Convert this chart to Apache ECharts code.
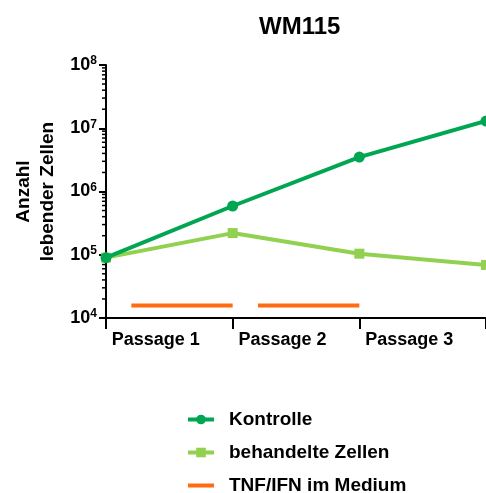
<!DOCTYPE html>
<html><head><meta charset="utf-8">
<script src="https://cdn.jsdelivr.net/npm/echarts@6/dist/echarts.min.js"></script>
<style>html,body{margin:0;padding:0;background:#fff}#c{width:486px;height:493px}</style>
</head><body><div id="c"></div>
<script>
const categories = ['Passage 1', 'Passage 2', 'Passage 3'];
const passagePoints = [0, 1, 2, 3];
const kontrolle = [90000, 590000, 3500000, 13000000];
const behandelt = [90000, 220000, 104000, 69000];
const treatmentLevel = 15700;
const treatmentPeriods = [[0.2, 1.0], [1.2, 2.0]];
const yMin = 1e4, yMax = 1e8;
const decades = [4, 5, 6, 7];
const minorMultipliers = [2, 3, 4, 5, 6, 7, 8, 9];

const FONT = 'Liberation Sans, Arial, sans-serif';
const DARK = '#00a651', LIGHT = '#92d050', ORANGE = '#ff6a13';

const minorTicks = [];
decades.forEach(d => minorMultipliers.forEach(m => minorTicks.push([0, m * Math.pow(10, d)])));

const treatmentSeries = treatmentPeriods.map(p => ({
  name: 'TNF/IFN im Medium', type: 'line', xAxisIndex: 1, symbol: 'none', showSymbol: false,
  lineStyle: { color: ORANGE, width: 4 }, itemStyle: { color: ORANGE },
  data: [[p[0], treatmentLevel], [p[1], treatmentLevel]], z: 3
}));

const chart = echarts.init(document.getElementById('c'));
chart.setOption({
  animation: false,
  title: { text: 'WM115', left: 254, top: 10,
    textStyle: { fontFamily: FONT, fontWeight: 'bold', fontSize: 24, color: '#000' } },
  legend: {
    orient: 'vertical', left: 186, top: 410, height: 120, padding: 0, itemWidth: 26, itemHeight: 12, itemGap: 14,
    lineStyle: { width: 4 },
    data: ['Kontrolle', 'behandelte Zellen', { name: 'TNF/IFN im Medium', itemStyle: { opacity: 0 } }],
    textStyle: { fontFamily: FONT, fontWeight: 'bold', fontSize: 19, color: '#000', padding: [0, 0, 0, 10] }
  },
  grid: { left: 106, right: 0, top: 65, bottom: 175, containLabel: false, outerBoundsMode: 'none' },
  xAxis: [
    { type: 'category', data: categories, boundaryGap: true,
      axisLine: { lineStyle: { color: '#000', width: 2 } },
      axisTick: { show: true, length: 11, lineStyle: { color: '#000', width: 2 } },
      axisLabel: { margin: 13, padding: [0, 27, 0, 0], fontFamily: FONT, fontWeight: 'bold', fontSize: 18, color: '#000' },
      splitLine: { show: false } },
    { type: 'value', min: 0, max: 3, show: false, splitLine: { show: false } }
  ],
  yAxis: {
    type: 'log', logBase: 10, min: yMin, max: yMax,
    name: 'Anzahl\nlebender Zellen', nameLocation: 'middle', nameGap: 45, nameRotate: 90,
    nameTextStyle: { fontFamily: FONT, fontWeight: 'bold', fontSize: 19, color: '#000', lineHeight: 24 },
    axisLine: { show: true, lineStyle: { color: '#000', width: 2 } },
    axisTick: { show: true, length: 7, lineStyle: { color: '#000', width: 2 } },
    splitLine: { show: false },
    axisLabel: {
      margin: 9, fontFamily: FONT, color: '#000',
      formatter: v => '{b|10}{s|' + Math.round(Math.log10(v)) + '}',
      rich: {
        b: { fontFamily: FONT, fontWeight: 'bold', fontSize: 18, color: '#000', lineHeight: 20, verticalAlign: 'middle' },
        s: { fontFamily: FONT, fontWeight: 'bold', fontSize: 12, color: '#000', lineHeight: 20, verticalAlign: 'top' }
      }
    }
  },
  series: [
    { name: 'minor', type: 'custom', xAxisIndex: 1, silent: true, clip: false, z: 1,
      data: minorTicks,
      renderItem: (params, api) => {
        const p = api.coord([0, api.value(1)]);
        return { type: 'line', shape: { x1: p[0] - 4, y1: p[1], x2: p[0], y2: p[1] },
          style: { stroke: '#000', lineWidth: 1.5 } };
      } },
    ...treatmentSeries,
    { name: 'behandelte Zellen', type: 'line', xAxisIndex: 1, symbol: 'rect', symbolSize: 10,
      lineStyle: { color: LIGHT, width: 4 }, itemStyle: { color: LIGHT },
      data: passagePoints.map((x, i) => [x, behandelt[i]]), z: 4 },
    { name: 'Kontrolle', type: 'line', xAxisIndex: 1, symbol: 'circle', symbolSize: 11,
      lineStyle: { color: DARK, width: 4 }, itemStyle: { color: DARK },
      data: passagePoints.map((x, i) => [x, kontrolle[i]]), z: 5 }
  ]
});
</script></body></html>
